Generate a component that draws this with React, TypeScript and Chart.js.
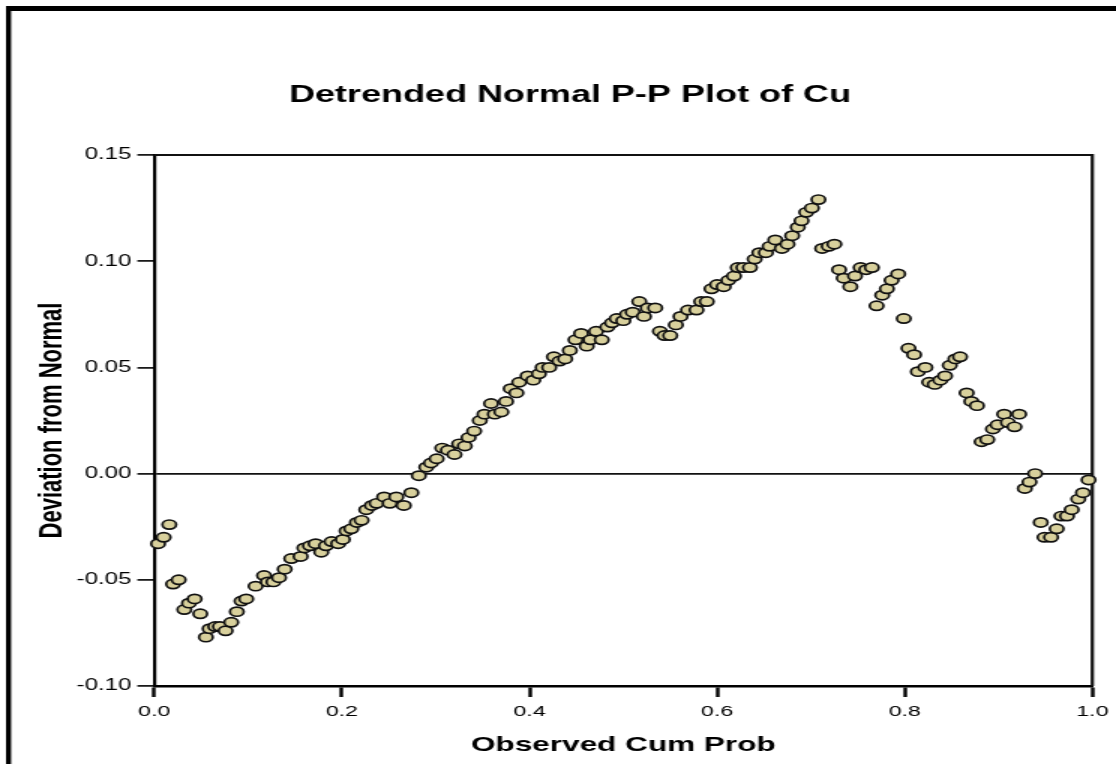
import { useEffect, useRef } from "react";
import { Chart, registerables } from "chart.js";

Chart.register(...registerables);

const chartTitle = "Detrended Normal P-P Plot of Cu";
const xAxisTitle = "Observed Cum Prob";
const yAxisTitle = "Deviation from Normal";
const xTickLabels = ["0.0", "0.2", "0.4", "0.6", "0.8", "1.0"];
const yTickLabels = ["-0.10", "-0.05", "0.00", "0.05", "0.10", "0.15"];

const observedCumProb = [
  0.004, 0.010, 0.016, 0.020, 0.026, 0.032, 0.037, 0.043, 0.049, 0.055,
  0.059, 0.065, 0.070, 0.076, 0.082, 0.088, 0.093, 0.098, 0.108, 0.117,
  0.121, 0.127, 0.133, 0.139, 0.146, 0.156, 0.160, 0.166, 0.172, 0.178,
  0.183, 0.189, 0.196, 0.201, 0.205, 0.210, 0.216, 0.221, 0.226, 0.232,
  0.237, 0.245, 0.251, 0.258, 0.266, 0.274, 0.282, 0.290, 0.295, 0.301,
  0.307, 0.313, 0.320, 0.325, 0.331, 0.335, 0.341, 0.347, 0.352, 0.359,
  0.363, 0.370, 0.375, 0.380, 0.386, 0.389, 0.398, 0.404, 0.410, 0.414,
  0.421, 0.426, 0.432, 0.438, 0.443, 0.449, 0.455, 0.461, 0.465, 0.471,
  0.477, 0.483, 0.488, 0.493, 0.500, 0.504, 0.510, 0.517, 0.522, 0.526,
  0.534, 0.539, 0.544, 0.550, 0.556, 0.561, 0.569, 0.578, 0.583, 0.589,
  0.594, 0.600, 0.607, 0.612, 0.618, 0.622, 0.628, 0.635, 0.640, 0.645,
  0.652, 0.656, 0.662, 0.669, 0.675, 0.680, 0.686, 0.690, 0.695, 0.701,
  0.708, 0.712, 0.719, 0.725, 0.730, 0.735, 0.742, 0.747, 0.753, 0.759,
  0.765, 0.770, 0.776, 0.781, 0.786, 0.793, 0.799, 0.804, 0.810, 0.814,
  0.822, 0.826, 0.832, 0.838, 0.843, 0.848, 0.854, 0.859, 0.866, 0.871,
  0.877, 0.882, 0.888, 0.894, 0.899, 0.906, 0.910, 0.917, 0.922, 0.928,
  0.933, 0.939, 0.945, 0.949, 0.956, 0.962, 0.967, 0.973, 0.978, 0.985,
  0.990, 0.996,
];

const deviationFromNormal = [
  -0.033, -0.030, -0.024, -0.052, -0.050, -0.064, -0.061, -0.059, -0.066, -0.077,
  -0.073, -0.072, -0.072, -0.074, -0.070, -0.065, -0.060, -0.059, -0.053, -0.048,
  -0.051, -0.051, -0.049, -0.045, -0.040, -0.039, -0.035, -0.034, -0.033, -0.037,
  -0.034, -0.032, -0.033, -0.031, -0.027, -0.026, -0.023, -0.022, -0.017, -0.015,
  -0.014, -0.011, -0.014, -0.011, -0.015, -0.009, -0.001, 0.003, 0.005, 0.007,
  0.012, 0.011, 0.009, 0.014, 0.013, 0.017, 0.020, 0.025, 0.028, 0.033,
  0.028, 0.029, 0.034, 0.040, 0.038, 0.043, 0.046, 0.044, 0.047, 0.050,
  0.050, 0.055, 0.053, 0.054, 0.058, 0.063, 0.066, 0.060, 0.063, 0.067,
  0.063, 0.069, 0.071, 0.073, 0.072, 0.075, 0.076, 0.081, 0.074, 0.078,
  0.078, 0.067, 0.065, 0.065, 0.070, 0.074, 0.077, 0.077, 0.081, 0.081,
  0.087, 0.089, 0.088, 0.091, 0.093, 0.097, 0.097, 0.097, 0.101, 0.104,
  0.104, 0.107, 0.110, 0.106, 0.108, 0.112, 0.116, 0.119, 0.123, 0.125,
  0.129, 0.106, 0.107, 0.108, 0.096, 0.092, 0.088, 0.093, 0.097, 0.096,
  0.097, 0.079, 0.084, 0.087, 0.091, 0.094, 0.073, 0.059, 0.056, 0.048,
  0.050, 0.043, 0.042, 0.044, 0.046, 0.051, 0.054, 0.055, 0.038, 0.034,
  0.032, 0.015, 0.016, 0.021, 0.023, 0.028, 0.024, 0.022, 0.028, -0.007,
  -0.004, 0.000, -0.023, -0.030, -0.030, -0.026, -0.020, -0.020, -0.017, -0.012,
  -0.009, -0.003,
];

// The reference picture is stretched horizontally; the chart is drawn on a
// narrower canvas and displayed at full width.
const STRETCH = 1.5;
const PAGE_W = 1116;
const PAGE_H = 764;
const FONT = "'Liberation Sans', Arial, Helvetica, sans-serif";

export default function App() {
  const canvasRef = useRef<HTMLCanvasElement | null>(null);

  useEffect(() => {
    const canvas = canvasRef.current;
    if (!canvas) return;
    const W = canvas.width;

    const framePlugin = {
      id: "frame",
      beforeDraw(chart: any) {
        const { ctx, width, height } = chart;
        ctx.save();
        ctx.fillStyle = "#ffffff";
        ctx.fillRect(0, 0, width, height);
        ctx.fillStyle = "#000000";
        ctx.fillRect(4, 6, 3.4, height);
        ctx.fillRect(4, 6, width, 5);
        ctx.font = `bold 24px ${FONT}`;
        ctx.textAlign = "center";
        ctx.textBaseline = "middle";
        ctx.fillText(chartTitle, 380, 95);
        ctx.restore();
      },
      beforeDatasetsDraw(chart: any) {
        const { ctx, chartArea } = chart;
        ctx.save();
        ctx.strokeStyle = "#111111";
        ctx.lineWidth = 2;
        ctx.beginPath();
        ctx.moveTo(chartArea.left, chartArea.top);
        ctx.lineTo(chartArea.right, chartArea.top);
        ctx.stroke();
        ctx.lineWidth = 2.2;
        ctx.beginPath();
        ctx.moveTo(chartArea.right, chartArea.top - 1);
        ctx.lineTo(chartArea.right, chartArea.bottom);
        ctx.stroke();
        ctx.restore();
      },
    };

    const points = observedCumProb.map((x, i) => ({ x, y: deviationFromNormal[i] }));

    const chart = new Chart(canvas, {
      type: "scatter",
      data: {
        datasets: [
          {
            data: points,
            pointRadius: 4.6,
            pointHoverRadius: 4.6,
            borderWidth: 1.7,
            pointBackgroundColor: "#d8d09c",
            pointBorderColor: "#111111",
            clip: false as any,
          },
        ],
      },
      options: {
        animation: false,
        responsive: false,
        devicePixelRatio: 1,
        layout: { padding: { left: 0, right: W - 1094 / STRETCH, top: 155, bottom: 0 } },
        plugins: {
          legend: { display: false },
          tooltip: { enabled: false },
          title: { display: false },
        },
        scales: {
          x: {
            type: "linear",
            min: 0,
            max: 1,
            afterFit(scale: any) {
              scale.height = PAGE_H - 686;
            },
            ticks: {
              stepSize: 0.2,
              color: "#000",
              font: { family: FONT, size: 15.5 },
              padding: 5,
              maxRotation: 0,
              autoSkip: false,
              callback: (_v: any, i: number) => xTickLabels[i],
            },
            grid: {
              drawOnChartArea: false,
              drawTicks: true,
              tickLength: 11,
              tickWidth: 2.4,
              tickColor: "#000",
              color: "#000",
            },
            border: { display: true, color: "#000", width: 2.5 },
            title: {
              display: true,
              text: xAxisTitle,
              color: "#000",
              font: { family: FONT, size: 21, weight: "bold" },
              padding: { top: 0, bottom: 6 },
            },
          },
          y: {
            type: "linear",
            min: -0.1,
            max: 0.15,
            afterFit(scale: any) {
              scale.width = 154.3 / STRETCH;
            },
            ticks: {
              stepSize: 0.05,
              color: "#000",
              font: { family: FONT, size: 16 },
              padding: 4,
              autoSkip: false,
              callback: (_v: any, i: number) => yTickLabels[i],
            },
            grid: {
              drawOnChartArea: true,
              drawTicks: true,
              tickLength: 11.3,
              tickWidth: 1.6,
              tickColor: "#000",
              lineWidth: 1.8,
              color: (c: any) =>
                c.tick && Math.abs(c.tick.value) < 1e-9 ? "#111111" : "rgba(0,0,0,0)",
            },
            border: { display: true, color: "#000", width: 2.2 },
            title: {
              display: true,
              text: yAxisTitle,
              color: "#000",
              font: { family: FONT, size: 22, weight: "bold" },
              padding: { top: 21.5, bottom: 0 },
            },
          },
        },
      },
      plugins: [framePlugin],
    });

    return () => chart.destroy();
  }, []);

  return (
    <div
      style={{
        position: "fixed",
        left: 0,
        top: 0,
        width: PAGE_W,
        height: PAGE_H,
        background: "#ffffff",
        overflow: "hidden",
      }}
    >
      <canvas
        ref={canvasRef}
        width={Math.round(PAGE_W / STRETCH)}
        height={PAGE_H}
        style={{ width: `${PAGE_W}px`, height: `${PAGE_H}px`, display: "block" }}
      />
    </div>
  );
}
